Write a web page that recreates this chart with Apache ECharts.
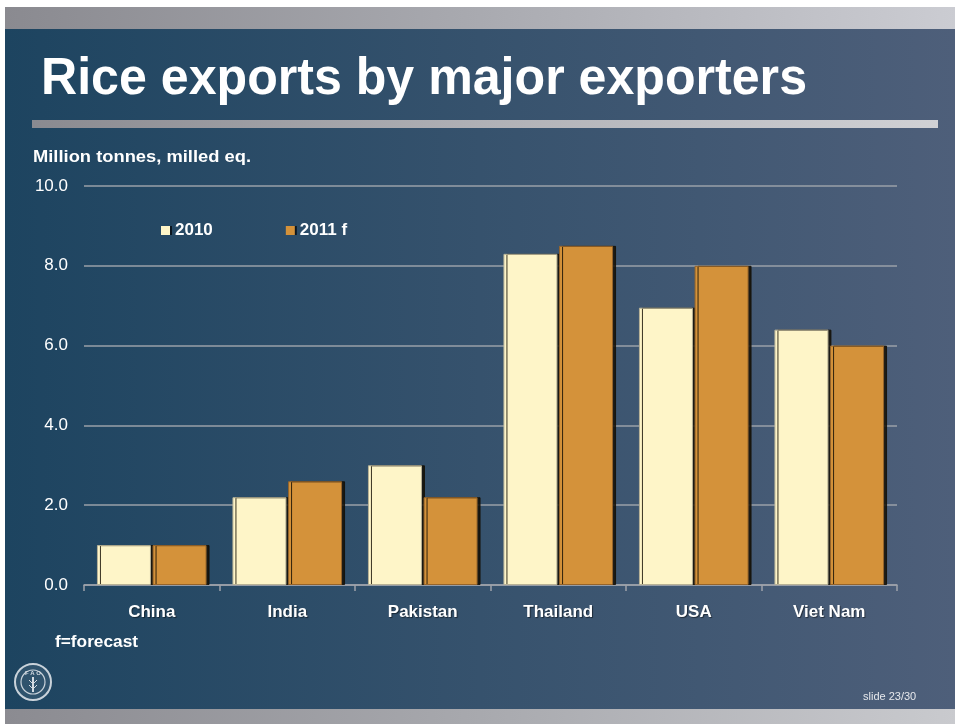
<!DOCTYPE html>
<html>
<head>
<meta charset="utf-8">
<script src="https://cdn.jsdelivr.net/npm/echarts@6/dist/echarts.min.js"></script>
<style>
html,body{margin:0;padding:0;background:#fff;}
#chart{width:955px;height:724px;}
</style>
</head>
<body>
<div id="chart"></div>
<script>
// ---- data ----
var categories = ['China', 'India', 'Pakistan', 'Thailand', 'USA', 'Viet Nam'];
var seriesNames = ['2010', '2011 f'];
var values2010 = [1.0, 2.2, 3.0, 8.3, 6.95, 6.4];
var values2011 = [1.0, 2.6, 2.2, 8.5, 8.0, 6.0];
var yTicks = [0, 2, 4, 6, 8, 10];

var FONT = "'Liberation Sans', Arial, Helvetica, sans-serif";
var cv = document.createElement('canvas').getContext('2d');
function fitScale(text, size, weight, target) {
  cv.font = weight + ' ' + size + 'px ' + FONT;
  var w = cv.measureText(text).width;
  return target / w;
}

var chart = echarts.init(document.getElementById('chart'), null, {renderer: 'canvas'});

function grad(stops) {
  return new echarts.graphic.LinearGradient(0, 0, 1, 0, stops);
}

var titleText = 'Rice exports by major exporters';
var unitText = 'Million tonnes, milled eq.';
var noteText = 'f=forecast';

var option = {
  backgroundColor: '#ffffff',
  animation: false,
  textStyle: {fontFamily: FONT},
  graphic: [
    {type: 'rect', z: -10, silent: true, shape: {x: 5, y: 7, width: 950, height: 22},
     style: {fill: grad([{offset: 0, color: '#8a8a90'}, {offset: 0.5, color: '#a9aab0'}, {offset: 1, color: '#cbccd2'}])}},
    {type: 'rect', z: -10, silent: true, shape: {x: 5, y: 29, width: 950, height: 680},
     style: {fill: grad([{offset: 0, color: '#1d4460'}, {offset: 0.5, color: '#36526d'}, {offset: 1, color: '#4e5f7a'}])}},
    {type: 'rect', z: -10, silent: true, shape: {x: 5, y: 709, width: 950, height: 15},
     style: {fill: grad([{offset: 0, color: '#8b8b91'}, {offset: 0.5, color: '#a8a9ae'}, {offset: 1, color: '#c9cace'}])}},
    // title underline bar
    {type: 'rect', z: -5, silent: true, shape: {x: 32, y: 120, width: 906, height: 8},
     style: {fill: grad([{offset: 0, color: '#8a8a90'}, {offset: 0.5, color: '#b0b1b6'}, {offset: 1, color: '#d0d1d5'}])}},
    // title
    {type: 'text', x: 41, y: 80, scaleX: fitScale(titleText, 52, 'bold', 766), silent: true,
     style: {text: titleText, fill: '#ffffff', font: 'bold 52px ' + FONT, verticalAlign: 'middle', align: 'left',
             shadowColor: 'rgba(0,0,0,0.4)', shadowOffsetX: 1, shadowOffsetY: 1, shadowBlur: 2}},
    // unit label
    {type: 'text', x: 33, y: 157, scaleX: fitScale(unitText, 17, 'bold', 218), silent: true,
     style: {text: unitText, fill: '#ffffff', font: 'bold 17px ' + FONT, verticalAlign: 'middle', align: 'left',
             shadowColor: 'rgba(0,0,0,0.6)', shadowOffsetX: 1, shadowOffsetY: 1, shadowBlur: 1}},
    // note
    {type: 'text', x: 55, y: 643, scaleX: fitScale(noteText, 16, 'bold', 83), silent: true,
     style: {text: noteText, fill: '#ffffff', font: 'bold 16px ' + FONT, verticalAlign: 'middle', align: 'left',
             shadowColor: 'rgba(0,0,0,0.5)', shadowOffsetX: 1, shadowOffsetY: 1, shadowBlur: 1}},
    // slide number
    {type: 'text', x: 863, y: 697, silent: true,
     style: {text: 'slide 23/30', fill: '#e6e8ec', font: '11px ' + FONT, verticalAlign: 'middle', align: 'left'}},
    // logo
    {type: 'circle', silent: true, shape: {cx: 33, cy: 682, r: 18},
     style: {fill: 'rgba(255,255,255,0.08)', stroke: '#c9d2da', lineWidth: 2}},
    {type: 'circle', silent: true, shape: {cx: 33, cy: 682, r: 12},
     style: {fill: 'none', stroke: '#c9d2da', lineWidth: 1.2}},
    {type: 'text', x: 33, y: 673, silent: true,
     style: {text: 'F A O', fill: '#d4dbe2', font: 'bold 6px ' + FONT, verticalAlign: 'middle', align: 'center'}},
    {type: 'line', silent: true, shape: {x1: 33, y1: 677, x2: 33, y2: 692}, style: {stroke: '#d4dbe2', lineWidth: 2}},
    {type: 'line', silent: true, shape: {x1: 29, y1: 680, x2: 33, y2: 684}, style: {stroke: '#d4dbe2', lineWidth: 1}},
    {type: 'line', silent: true, shape: {x1: 37, y1: 680, x2: 33, y2: 684}, style: {stroke: '#d4dbe2', lineWidth: 1}},
    {type: 'line', silent: true, shape: {x1: 29, y1: 685, x2: 33, y2: 689}, style: {stroke: '#d4dbe2', lineWidth: 1}},
    {type: 'line', silent: true, shape: {x1: 37, y1: 685, x2: 33, y2: 689}, style: {stroke: '#d4dbe2', lineWidth: 1}}
  ],
  legend: {
    data: seriesNames,
    left: 161,
    top: 222,
    padding: 0,
    itemWidth: 9,
    itemHeight: 9,
    itemGap: 73,
    icon: 'rect',
    textStyle: {color: '#ffffff', fontSize: 17, fontWeight: 'bold', fontFamily: FONT, padding: [0, 0, 0, 0]},
    itemStyle: {borderWidth: 0, shadowColor: 'rgba(0,0,0,0.7)', shadowOffsetX: 2, shadowOffsetY: 0, shadowBlur: 0}
  },
  grid: {left: 84, right: 58, top: 186, bottom: 139, containLabel: false},
  xAxis: {
    type: 'category',
    data: categories,
    axisLine: {show: true, lineStyle: {color: '#9ea3aa', width: 1.5}},
    axisTick: {show: true, length: 6, lineStyle: {color: '#9ea3aa', width: 1.5}},
    axisLabel: {color: '#ffffff', fontSize: 17, fontWeight: 'bold', margin: 19, fontFamily: FONT,
                textShadowColor: 'rgba(0,0,0,0.5)', textShadowOffsetX: 1, textShadowOffsetY: 1, textShadowBlur: 1}
  },
  yAxis: {
    type: 'value',
    min: yTicks[0],
    max: yTicks[yTicks.length - 1],
    interval: 2,
    axisLine: {show: false},
    axisTick: {show: false},
    splitLine: {show: true, lineStyle: {color: '#9aa0a8', width: 1.5}},
    axisLabel: {color: '#ffffff', fontSize: 17, margin: 16, fontFamily: FONT,
                formatter: function (v) { return v.toFixed(1); }}
  },
  series: [
    {
      name: seriesNames[0], type: 'bar', data: values2010,
      barWidth: 54, barGap: '3%',
      itemStyle: {color: '#fef5c8', borderColor: '#b8b296', borderWidth: 1,
                  shadowColor: 'rgba(20,15,5,0.85)', shadowOffsetX: 3, shadowOffsetY: 0, shadowBlur: 0}
    },
    {
      name: seriesNames[1], type: 'bar', data: values2011,
      barWidth: 54,
      itemStyle: {color: '#d4923a', borderColor: '#96642a', borderWidth: 1,
                  shadowColor: 'rgba(20,15,5,0.85)', shadowOffsetX: 3, shadowOffsetY: 0, shadowBlur: 0}
    }
  ]
};
chart.setOption(option);
</script>
</body>
</html>
